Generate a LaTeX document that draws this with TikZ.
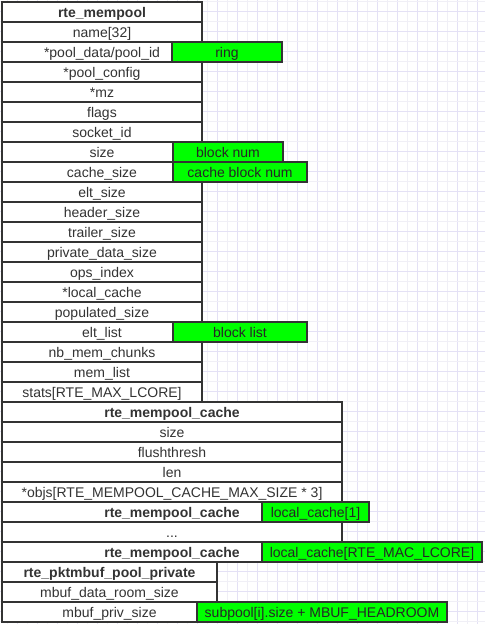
\documentclass[tikz,border=0pt]{standalone}
\usepackage{fontspec}
\setmainfont{Liberation Sans}
\definecolor{lc}{HTML}{333333}
\definecolor{tc}{HTML}{333333}
\definecolor{gr}{HTML}{00FF00}
\definecolor{gridA}{HTML}{F0EFF6}
\definecolor{gridB}{HTML}{E4E1F5}
\begin{document}
\begin{tikzpicture}[x=0.75pt,y=-0.75pt,
  cell/.style={draw=lc, line width=1.5pt, fill=white, minimum height=15pt, inner sep=0pt,
    text height=9pt, text depth=1pt,
    font=\fontsize{10.5pt}{12pt}\selectfont, text=tc},
  wA/.style={cell, minimum width=150pt},
  wB/.style={cell, minimum width=255pt},
  wC/.style={cell, minimum width=161.25pt},
  hdr/.style={font=\fontsize{10.5pt}{12pt}\selectfont\bfseries},
  gbox/.style={cell, fill=gr, text=black!85}]
\useasboundingbox (0,0) rectangle (485,624);
\fill[white] (0,0) rectangle (485,624);
% background grid
\foreach \k in {0,...,47} {
  \pgfmathsetmacro\xx{7.3+10*\k}
  \pgfmathtruncatemacro\odd{mod(\k,2)}
  \ifnum\odd=0 \draw[gridA, line width=0.75pt] (\xx,0) -- (\xx,624); \else \draw[gridB, line width=0.75pt] (\xx,0) -- (\xx,624); \fi
}
\foreach \k in {0,...,62} {
  \pgfmathsetmacro\yy{1.7+10*\k}
  \pgfmathtruncatemacro\odd{mod(\k,2)}
  \ifnum\odd=0 \draw[gridA, line width=0.75pt] (0,\yy) -- (485,\yy); \else \draw[gridB, line width=0.75pt] (0,\yy) -- (485,\yy); \fi
}
% rte_mempool
\node[wA, hdr] (mp) at (102,12) {rte\_mempool};
\node[wA] (name) at (102,32) {name[32]};
\node[wA] (pooldata) at (102,52) {*pool\_data/pool\_id};
\node[wA] (poolcfg) at (102,72) {*pool\_config};
\node[wA] (mz) at (102,92) {*mz};
\node[wA] (flags) at (102,112) {flags};
\node[wA] (socket) at (102,132) {socket\_id};
\node[wA] (size) at (102,152) {size};
\node[wA] (csize) at (102,172) {cache\_size};
\node[wA] (eltsize) at (102,192) {elt\_size};
\node[wA] (hsize) at (102,212) {header\_size};
\node[wA] (tsize) at (102,232) {trailer\_size};
\node[wA] (pdsize) at (102,252) {private\_data\_size};
\node[wA] (ops) at (102,272) {ops\_index};
\node[wA] (lcache) at (102,292) {*local\_cache};
\node[wA] (popsize) at (102,312) {populated\_size};
\node[wA] (eltlist) at (102,332) {elt\_list};
\node[wA] (nbmem) at (102,352) {nb\_mem\_chunks};
\node[wA] (memlist) at (102,372) {mem\_list};
\node[wA] (stats) at (102,392) {stats[RTE\_MAX\_LCORE]};
% rte_mempool_cache
\node[wB, hdr] (mc) at (172,412) {rte\_mempool\_cache};
\node[wB] (mcsize) at (172,432) {size};
\node[wB] (flush) at (172,452) {flushthresh};
\node[wB] (len) at (172,472) {len};
\node[wB] (objs) at (172,492) {*objs[RTE\_MEMPOOL\_CACHE\_MAX\_SIZE * 3]};
\node[wB, hdr] (mc1) at (172,512) {rte\_mempool\_cache};
\node[wB] (dots) at (172,532) {...};
\node[wB, hdr] (mcn) at (172,552) {rte\_mempool\_cache};
% rte_pktmbuf_pool_private
\node[wC, hdr] (pp) at (109.5,572) {rte\_pktmbuf\_pool\_private};
\node[wC] (droom) at (109.5,592) {mbuf\_data\_room\_size};
\node[wC] (priv) at (109.5,612) {mbuf\_priv\_size};
% green annotations
\node[gbox, minimum width=82.5pt] (ring) at (227,52) {ring};
\node[gbox, minimum width=82.5pt] (bnum) at (228,152) {block num};
\node[gbox, minimum width=100.5pt] (cbnum) at (240,172) {cache block num};
\node[gbox, minimum width=100.5pt] (blist) at (240,332) {block list};
\node[gbox, minimum width=80.25pt] (lc1) at (315.5,512) {local\_cache[1]};
\node[gbox, minimum width=165pt] (lcn) at (372,552) {local\_cache[RTE\_MAC\_LCORE]};
\node[gbox, minimum width=187.5pt] (sub) at (322,612) {subpool[i].size + MBUF\_HEADROOM};
\end{tikzpicture}
\end{document}
